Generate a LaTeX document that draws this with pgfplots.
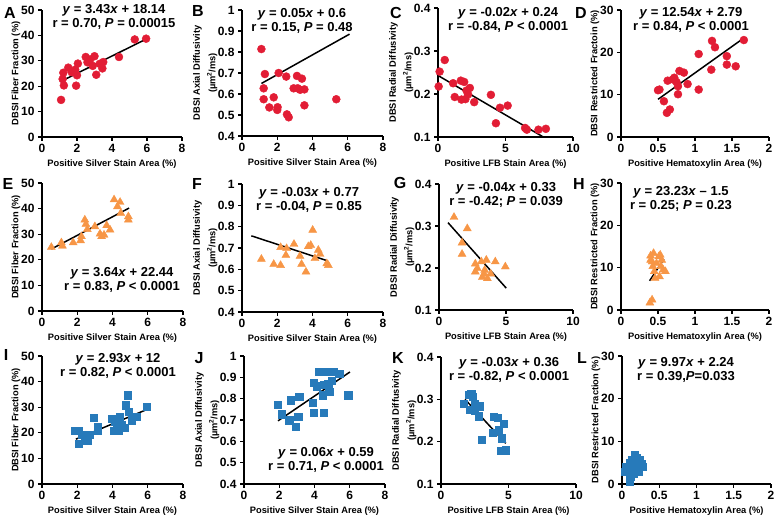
\documentclass[border=0pt]{standalone}
\usepackage{fontspec}
\setmainfont{Liberation Sans}
\usepackage{pgfplots}
\pgfplotsset{compat=1.18}
\definecolor{cred}{RGB}{226,29,53}
\definecolor{corange}{RGB}{247,150,70}
\definecolor{cblue}{RGB}{39,122,186}
\pgfplotsset{
  panel/.style={
    scale only axis, width=140pt, height=127pt,
    axis x line=bottom, axis y line=left,
    axis line style={-, line width=1.5pt, black},
    tick align=outside, major tick length=4pt,
    every tick/.style={black, line width=1.2pt},
    tick label style={font=\bfseries\fontsize{12}{12}\selectfont},
    label style={font=\bfseries\fontsize{9.3}{11}\selectfont},
    ylabel style={align=center},
    ylabel shift=-6pt,
    /pgf/number format/assume math mode=true,
    clip=false, anchor=south west,
  },
  reds/.style={only marks, mark=*, mark size=4pt, cred, mark options={draw=cred, fill=cred}},
  oranges/.style={only marks, mark=triangle*, mark size=4.6pt, corange, mark options={draw=corange, fill=corange}},
  blues/.style={only marks, mark=square*, mark size=3.6pt, cblue, mark options={draw=cblue, fill=cblue}},
  fit/.style={black, line width=1.5pt, no marks},
  silver/.style={xmin=0, xmax=8, xtick={0,2,4,6,8}, xlabel={Positive Silver Stain Area (\%)}},
  lfb/.style={xmin=0, xmax=10, xtick={0,5,10}, xlabel={Positive LFB Stain Area (\%)}},
  hema/.style={xmin=0, xmax=2, xtick={0,0.5,1,1.5,2}, xlabel={Positive Hematoxylin Area (\%)}},
  twoline/.style={ylabel style={font=\bfseries\fontsize{9.3}{15.5}\selectfont}, ylabel shift=-6.5pt},
  fiber/.style={ymin=0, ymax=50, ytick={0,10,20,30,40,50}, ylabel={DBSI Fiber Fraction (\%)}},
  axial/.style={twoline, ymin=0.4, ymax=1, ytick={0.4,0.5,0.6,0.7,0.8,0.9,1}, ylabel={DBSI Axial Diffusivity\\(µm\textsuperscript{2}/ms)}},
  radial/.style={twoline, ymin=0.1, ymax=0.4, ytick={0.1,0.2,0.3,0.4}, ylabel={DBSI Radial Diffusivity\\(µm\textsuperscript{2}/ms)}},
  restr/.style={ymin=0, ymax=30, ytick={0,10,20,30}},
}
\tikzset{
  eq/.style={font=\bfseries\fontsize{13}{14.5}\selectfont, align=center, inner sep=0pt},
  lett/.style={font=\bfseries\fontsize{16}{16}\selectfont, inner sep=0pt},
}
\begin{document}
\begin{tikzpicture}[x=1pt,y=1pt]
\useasboundingbox (0,0) rectangle (777,518);
% ---------- Row 1 ----------
\begin{axis}[panel, silver, fiber, at={(42pt,381pt)}]
\addplot[reds] coordinates {(1.09,14.6)(1.25,20.3)(1.18,22.8)(1.22,25.3)(1.5,27.3)(1.7,25.5)(1.95,20.2)(2.0,24.3)(2.05,28.9)(1.9,26.5)(2.5,31.5)(2.6,29.4)(2.75,30.5)(3.0,31.8)(2.9,28)(3.1,24.5)(3.3,28.8)(3.45,27)(3.5,29.5)(4.4,31.5)(5.3,38.4)(5.95,38.7)};
\addplot[fit] coordinates {(1.05,21.8)(6.0,38.7)};
\end{axis}
\begin{axis}[panel, silver, axial, at={(242pt,382pt)}, width=141pt, height=126pt]
\addplot[reds] coordinates {(1.1,0.814)(1.3,0.695)(1.23,0.627)(1.23,0.575)(1.55,0.536)(1.8,0.584)(2.02,0.537)(2.0,0.524)(2.08,0.70)(2.51,0.683)(2.55,0.503)(2.65,0.489)(2.93,0.627)(3.12,0.686)(3.16,0.627)(3.4,0.673)(3.54,0.622)(3.54,0.546)(5.35,0.575)(3.3,0.62)};
\addplot[fit] coordinates {(1.1,0.65)(6.1,0.885)};
\end{axis}
\begin{axis}[panel, lfb, radial, at={(438pt,381pt)}, width=135pt, height=129pt]
\addplot[reds] coordinates {(0.05,0.2175)(0.12,0.252)(0.5,0.279)(1.12,0.225)(1.24,0.193)(1.69,0.231)(1.74,0.187)(1.94,0.228)(2.03,0.188)(2.11,0.208)(2.36,0.214)(2.23,0.199)(2.68,0.181)(3.92,0.198)(4.29,0.132)(4.59,0.168)(5.16,0.173)(6.45,0.121)(6.58,0.117)(7.44,0.117)(7.99,0.119)};
\addplot[fit] coordinates {(0,0.243)(7.8,0.1)};
\end{axis}
\begin{axis}[panel, hema, restr, ylabel={DBSI Restricted Fractoin (\%)}, at={(621pt,381pt)}, width=148pt]
\addplot[reds] coordinates {(0.5,11.05)(0.52,11.2)(0.58,8.45)(0.63,13.3)(0.62,5.7)(0.66,6.5)(0.70,13.6)(0.72,14.0)(0.75,13.0)(0.77,12.0)(0.77,10.1)(0.79,15.6)(0.85,15.2)(0.9,12.5)(1.05,19.6)(1.05,11.2)(1.22,15.9)(1.23,22.7)(1.27,21.2)(1.43,19.1)(1.43,17.1)(1.55,16.7)(1.66,22.9)};
\addplot[fit] coordinates {(0.5,8.9)(1.67,23.5)};
\end{axis}
% ---------- Row 2 ----------
\begin{axis}[panel, silver, fiber, at={(42pt,207pt)}, width=141pt, height=128pt]
\addplot[oranges] coordinates {(0.53,24.9)(1.1,26.7)(1.16,25.4)(1.77,26.7)(2.19,27.5)(2.24,29.1)(2.43,35.6)(2.49,33.9)(2.57,31.9)(3.0,33)(3.29,30.1)(3.38,29.1)(3.52,29.7)(3.67,33.4)(3.86,31.7)(4.09,43.5)(4.28,40.8)(4.43,42.5)(4.47,38.2)(4.9,36.9)(4.9,35.6)};
\addplot[fit] coordinates {(0.53,24.2)(4.94,40.2)};
\end{axis}
\begin{axis}[panel, silver, axial, at={(242pt,206pt)}, width=141pt, height=128pt]
\addplot[oranges] coordinates {(1.1,0.648)(1.8,0.624)(2.19,0.619)(2.19,0.703)(2.49,0.666)(2.53,0.698)(2.95,0.718)(3.29,0.662)(3.38,0.624)(3.63,0.588)(3.76,0.707)(3.9,0.713)(4.01,0.784)(4.14,0.651)(4.33,0.69)(4.43,0.671)(4.81,0.627)(4.9,0.619)};
\addplot[fit] coordinates {(0.53,0.757)(4.85,0.64)};
\end{axis}
\begin{axis}[panel, lfb, radial, at={(439pt,208pt)}, width=134pt, height=126pt]
\addplot[oranges] coordinates {(1.12,0.321)(2.11,0.294)(1.72,0.26)(1.72,0.233)(2.71,0.21)(2.71,0.191)(2.86,0.199)(3.16,0.215)(3.23,0.178)(3.41,0.195)(3.53,0.219)(3.61,0.175)(3.86,0.186)(4.2,0.215)(4.95,0.203)(3.36,0.186)};
\addplot[fit] coordinates {(0.67,0.308)(5.02,0.152)};
\end{axis}
\begin{axis}[panel, hema, restr, ylabel={DBSI Restricted Fraction (\%)}, at={(621pt,208pt)}, width=148pt]
\addplot[oranges] coordinates {(0.39,1.7)(0.42,2.4)(0.4,12.8)(0.42,11.4)(0.44,13.4)(0.45,9.1)(0.46,7.5)(0.51,12.6)(0.53,13)(0.54,10.3)(0.55,11.8)(0.57,9.5)(0.6,9.1)(0.43,10.3)(0.48,11)(0.52,7.9)(0.4,11.8)};
\addplot[fit] coordinates {(0.386,6.9)(0.58,12)};
\end{axis}
% ---------- Row 3 ----------
\begin{axis}[panel, silver, fiber, at={(42pt,34pt)}, width=141pt, height=128pt]
\addplot[blues] coordinates {(1.86,20.8)(2.1,20.8)(2.1,15.8)(2.24,19.1)(2.43,17.4)(2.57,17.1)(2.68,19.1)(2.95,26)(3.14,22.3)(3.14,20.8)(3.95,25.6)(4.05,20.8)(4.14,24.3)(4.24,22.1)(4.33,20.8)(4.43,26.2)(4.52,23)(4.77,30.8)(4.85,34.7)(4.9,28.2)(5.1,24.9)(5.38,26.2)(5.95,30.1)(4.66,22.1)};
\addplot[fit] coordinates {(1.92,17.5)(5.95,29.1)};
\end{axis}
\begin{axis}[panel, silver, axial, at={(244pt,34pt)}, width=141pt, height=128pt]
\addplot[blues] coordinates {(1.9,0.772)(2.12,0.727)(2.63,0.793)(2.56,0.699)(2.94,0.668)(3.13,0.808)(3.07,0.715)(3.89,0.78)(3.96,0.733)(3.96,0.874)(4.11,0.858)(4.27,0.925)(4.45,0.816)(4.53,0.733)(4.68,0.925)(4.78,0.871)(4.83,0.832)(5.1,0.925)(5.4,0.917)(5.91,0.816)(4.5,0.865)(4.97,0.883)};
\addplot[fit] coordinates {(1.93,0.696)(6.01,0.925)};
\end{axis}
\begin{axis}[panel, lfb, radial, at={(441pt,34pt)}, width=135pt, height=127pt]
\addplot[blues] coordinates {(1.66,0.29)(2.03,0.31)(2.23,0.314)(2.33,0.306)(2.15,0.276)(2.48,0.29)(2.52,0.274)(2.85,0.284)(2.77,0.26)(3.02,0.205)(3.89,0.259)(4.21,0.257)(3.81,0.221)(4.26,0.227)(4.5,0.208)(4.63,0.243)(4.46,0.179)(4.8,0.18)};
\addplot[fit] coordinates {(1.78,0.3)(4.8,0.196)};
\end{axis}
\begin{axis}[panel, hema, restr, ylabel={DBSI Restricted Fraction (\%)}, at={(622pt,34pt)}, width=149pt, height=128pt]
\addplot[blues] coordinates {(0.04,2.9)(0.05,4.1)(0.08,3.4)(0.1,0.5)(0.11,1.7)(0.14,4.2)(0.17,6.8)(0.19,6.2)(0.22,4.1)(0.24,5.6)(0.27,4.1)(0.13,5.6)(0.15,2.5)(0.22,2.9)(0.26,4.7)(0.1,5)};
\addplot[fit] coordinates {(0.05,2.5)(0.28,4.8)};
\end{axis}
% ---------- equations ----------
\node[eq] at (114,501) {\textit{y} = 3.43\textit{x} + 18.14\\r = 0.70, \textit{P} = 0.00015};
\node[eq] at (302,497) {\textit{y} = 0.05\textit{x} + 0.6\\r = 0.15, \textit{P} = 0.48};
\node[eq] at (508,498) {\textit{y} = -0.02\textit{x} + 0.24\\r = -0.84, \textit{P} < 0.0001};
\node[eq] at (691,498) {\textit{y} = 12.54\textit{x} + 2.79\\r = 0.84, \textit{P} < 0.0001};
\node[eq] at (122,238) {\textit{y} = 3.64\textit{x} + 22.44\\r = 0.83, \textit{P} < 0.0001};
\node[eq] at (309,318) {\textit{y} = -0.03\textit{x} + 0.77\\r = -0.04, \textit{P} = 0.85};
\node[eq] at (506,323) {\textit{y} = -0.04\textit{x} + 0.33\\r = -0.42; \textit{P} = 0.039};
\node[eq] at (681,319) {\textit{y} = 23.23\textit{x} – 1.5\\r = 0.25; \textit{P} = 0.23};
\node[eq] at (118,152) {\textit{y} = 2.93\textit{x} + 12\\r = 0.82, \textit{P} < 0.0001};
\node[eq] at (326,58) {\textit{y} = 0.06\textit{x} + 0.59\\r = 0.71, \textit{P} < 0.0001};
\node[eq] at (509,148) {\textit{y} = -0.03\textit{x} + 0.36\\r = -0.82, \textit{P} < 0.0001};
\node[eq] at (686,148) {\textit{y} = 9.97\textit{x} + 2.24\\r = 0.39,\textit{P}=0.033};
% ---------- panel letters ----------
\node[lett] at (10,505) {A};
\node[lett] at (198,507) {B};
\node[lett] at (396,505) {C};
\node[lett] at (581,505) {D};
\node[lett] at (8,334) {E};
\node[lett] at (197,334) {F};
\node[lett] at (400,335) {G};
\node[lett] at (579,334) {H};
\node[lett] at (6,163) {I};
\node[lett] at (199,160) {J};
\node[lett] at (398,160) {K};
\node[lett] at (582,160) {L};
\end{tikzpicture}
\end{document}
